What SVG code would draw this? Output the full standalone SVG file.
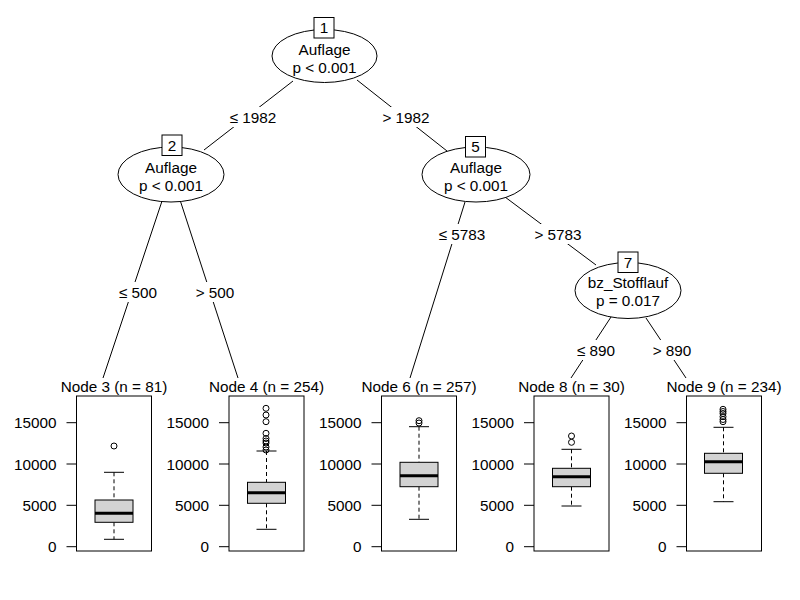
<svg xmlns="http://www.w3.org/2000/svg" width="800" height="600" viewBox="0 0 800 600">
<style>
text{font-family:"Liberation Sans",Arial,sans-serif;font-size:15.3px;fill:#000}
.m{text-anchor:middle}
.r{text-anchor:end}
.ell{fill:#fff;stroke:#000;stroke-width:1}
.idb{fill:#fff;stroke:#000;stroke-width:1}
.edge{stroke:#000;stroke-width:1;fill:none}
.lbg{fill:#fff;stroke:none}
.panel{fill:none;stroke:#000;stroke-width:1}
.box{fill:#d3d3d3;stroke:#000;stroke-width:1}
.med{stroke:#000;stroke-width:3}
.wh{stroke:#000;stroke-width:1;stroke-dasharray:4,3}
.ln{stroke:#000;stroke-width:1}
.out{fill:none;stroke:#000;stroke-width:1}
</style>
<rect width="800" height="600" fill="#fff"/>
<g id="connectors">
<line class="edge" x1="293" y1="81" x2="204" y2="150"/>
<line class="edge" x1="357" y1="80" x2="447" y2="151"/>
<line class="edge" x1="161.7" y1="202" x2="103" y2="378"/>
<line class="edge" x1="180.7" y1="202" x2="238" y2="378"/>
<line class="edge" x1="465" y1="202" x2="410" y2="378"/>
<line class="edge" x1="505" y1="197" x2="596" y2="265"/>
<line class="edge" x1="611" y1="317" x2="571" y2="378"/>
<line class="edge" x1="646" y1="318" x2="686" y2="378"/>
<rect class="lbg" x="227" y="107" width="52" height="20"/>
<rect class="lbg" x="380" y="107" width="52" height="20"/>
<rect class="lbg" x="116" y="282" width="44" height="20"/>
<rect class="lbg" x="193" y="282" width="44" height="20"/>
<rect class="lbg" x="436" y="224" width="52" height="20"/>
<rect class="lbg" x="532" y="224" width="52" height="20"/>
<rect class="lbg" x="574" y="340" width="44" height="20"/>
<rect class="lbg" x="650" y="340" width="44" height="20"/>
<text class="m" x="253" y="122.5">≤ 1982</text>
<text class="m" x="406" y="122.5">&gt; 1982</text>
<text class="m" x="138" y="297.5">≤ 500</text>
<text class="m" x="215" y="297.5">&gt; 500</text>
<text class="m" x="462" y="239.5">≤ 5783</text>
<text class="m" x="558" y="239.5">&gt; 5783</text>
<text class="m" x="596" y="355.5">≤ 890</text>
<text class="m" x="672" y="355.5">&gt; 890</text>
</g>
<g id="node1">
<ellipse class="ell" cx="324.5" cy="56" rx="52.5" ry="26.5"/>
<rect class="idb" x="314" y="17.5" width="20" height="20.5"/>
<text class="m" x="324" y="33">1</text>
<text class="m" x="324.5" y="54.5">Auflage</text>
<text class="m" x="324.5" y="72.5">p &lt; 0.001</text>
</g>
<g id="node2">
<ellipse class="ell" cx="171" cy="174.5" rx="53" ry="27.5"/>
<rect class="idb" x="162" y="135" width="20" height="20.5"/>
<text class="m" x="172" y="150.5">2</text>
<text class="m" x="171" y="172.5">Auflage</text>
<text class="m" x="171" y="190.5">p &lt; 0.001</text>
</g>
<g id="node5">
<ellipse class="ell" cx="476" cy="174.5" rx="54" ry="27.5"/>
<rect class="idb" x="465.5" y="136.5" width="20" height="20.5"/>
<text class="m" x="475.5" y="152">5</text>
<text class="m" x="476" y="172.5">Auflage</text>
<text class="m" x="476" y="190.5">p &lt; 0.001</text>
</g>
<g id="node7">
<ellipse class="ell" cx="628" cy="290.5" rx="53" ry="28"/>
<rect class="idb" x="618" y="252" width="20" height="20.5"/>
<text class="m" x="628" y="267.5">7</text>
<text class="m" x="628" y="288">bz_Stofflauf</text>
<text class="m" x="628" y="306">p = 0.017</text>
</g>
<g id="node3">
<text class="m" x="114" y="392">Node 3 (n = 81)</text>
<rect class="panel" x="76.5" y="396" width="75" height="155"/>
<g class="ln"><line x1="66.5" y1="422.7" x2="76.5" y2="422.7"/><line x1="66.5" y1="464" x2="76.5" y2="464"/><line x1="66.5" y1="505.3" x2="76.5" y2="505.3"/><line x1="66.5" y1="546.7" x2="76.5" y2="546.7"/></g>
<text class="r" x="56.5" y="428.2">15000</text><text class="r" x="56.5" y="469.5">10000</text><text class="r" x="56.5" y="510.8">5000</text><text class="r" x="56.5" y="552.2">0</text>
<line class="wh" x1="114" y1="472.3" x2="114" y2="500"/><line class="wh" x1="114" y1="522.3" x2="114" y2="539.3"/>
<line class="ln" x1="104" y1="472.3" x2="124" y2="472.3"/><line class="ln" x1="104" y1="539.3" x2="124" y2="539.3"/>
<rect class="box" x="95" y="500" width="38" height="22.3"/>
<line class="med" x1="95" y1="513.3" x2="133" y2="513.3"/>
<circle class="out" cx="114" cy="446" r="3"/>
</g>
<g id="node4">
<text class="m" x="266.5" y="392">Node 4 (n = 254)</text>
<rect class="panel" x="229" y="396" width="75" height="155"/>
<g class="ln"><line x1="219" y1="422.7" x2="229" y2="422.7"/><line x1="219" y1="464" x2="229" y2="464"/><line x1="219" y1="505.3" x2="229" y2="505.3"/><line x1="219" y1="546.7" x2="229" y2="546.7"/></g>
<text class="r" x="209" y="428.2">15000</text><text class="r" x="209" y="469.5">10000</text><text class="r" x="209" y="510.8">5000</text><text class="r" x="209" y="552.2">0</text>
<line class="wh" x1="266.5" y1="451" x2="266.5" y2="482.3"/><line class="wh" x1="266.5" y1="503.3" x2="266.5" y2="529.3"/>
<line class="ln" x1="256.5" y1="451" x2="276.5" y2="451"/><line class="ln" x1="256.5" y1="529.3" x2="276.5" y2="529.3"/>
<rect class="box" x="247.5" y="482.3" width="38" height="21"/>
<line class="med" x1="247.5" y1="492.7" x2="285.5" y2="492.7"/>
<g class="out"><circle cx="266" cy="408.3" r="3"/><circle cx="266" cy="415" r="3"/><circle cx="266" cy="421.7" r="3"/><circle cx="266" cy="433.3" r="3"/><circle cx="266" cy="438.5" r="3"/><circle cx="266" cy="441" r="3"/><circle cx="266" cy="443" r="3"/><circle cx="266" cy="447" r="3"/><circle cx="266" cy="450" r="3"/></g>
</g>
<g id="node6">
<text class="m" x="419" y="392">Node 6 (n = 257)</text>
<rect class="panel" x="381.5" y="396" width="75" height="155"/>
<g class="ln"><line x1="371.5" y1="422.7" x2="381.5" y2="422.7"/><line x1="371.5" y1="464" x2="381.5" y2="464"/><line x1="371.5" y1="505.3" x2="381.5" y2="505.3"/><line x1="371.5" y1="546.7" x2="381.5" y2="546.7"/></g>
<text class="r" x="361.5" y="428.2">15000</text><text class="r" x="361.5" y="469.5">10000</text><text class="r" x="361.5" y="510.8">5000</text><text class="r" x="361.5" y="552.2">0</text>
<line class="wh" x1="419" y1="426.7" x2="419" y2="462.3"/><line class="wh" x1="419" y1="486.7" x2="419" y2="519.3"/>
<line class="ln" x1="409" y1="426.7" x2="429" y2="426.7"/><line class="ln" x1="409" y1="519.3" x2="429" y2="519.3"/>
<rect class="box" x="400" y="462.3" width="38" height="24.4"/>
<line class="med" x1="400" y1="475.7" x2="438" y2="475.7"/>
<g class="out"><circle cx="419" cy="420.7" r="3"/><circle cx="419" cy="423" r="3"/></g>
</g>
<g id="node8">
<text class="m" x="571.5" y="392">Node 8 (n = 30)</text>
<rect class="panel" x="534" y="396" width="75" height="155"/>
<g class="ln"><line x1="524" y1="422.7" x2="534" y2="422.7"/><line x1="524" y1="464" x2="534" y2="464"/><line x1="524" y1="505.3" x2="534" y2="505.3"/><line x1="524" y1="546.7" x2="534" y2="546.7"/></g>
<text class="r" x="514" y="428.2">15000</text><text class="r" x="514" y="469.5">10000</text><text class="r" x="514" y="510.8">5000</text><text class="r" x="514" y="552.2">0</text>
<line class="wh" x1="571.5" y1="449.3" x2="571.5" y2="468.3"/><line class="wh" x1="571.5" y1="486.7" x2="571.5" y2="506"/>
<line class="ln" x1="561.5" y1="449.3" x2="581.5" y2="449.3"/><line class="ln" x1="561.5" y1="506" x2="581.5" y2="506"/>
<rect class="box" x="552.5" y="468.3" width="38" height="18.4"/>
<line class="med" x1="552.5" y1="476.7" x2="590.5" y2="476.7"/>
<g class="out"><circle cx="571.5" cy="436" r="3"/><circle cx="571.5" cy="442.3" r="3"/></g>
</g>
<g id="node9">
<text class="m" x="724" y="392">Node 9 (n = 234)</text>
<rect class="panel" x="686.5" y="396" width="75" height="155"/>
<g class="ln"><line x1="676.5" y1="422.7" x2="686.5" y2="422.7"/><line x1="676.5" y1="464" x2="686.5" y2="464"/><line x1="676.5" y1="505.3" x2="686.5" y2="505.3"/><line x1="676.5" y1="546.7" x2="686.5" y2="546.7"/></g>
<text class="r" x="666.5" y="428.2">15000</text><text class="r" x="666.5" y="469.5">10000</text><text class="r" x="666.5" y="510.8">5000</text><text class="r" x="666.5" y="552.2">0</text>
<line class="wh" x1="723.5" y1="427.3" x2="723.5" y2="453.3"/><line class="wh" x1="723.5" y1="473.3" x2="723.5" y2="501.7"/>
<line class="ln" x1="713.5" y1="427.3" x2="733.5" y2="427.3"/><line class="ln" x1="713.5" y1="501.7" x2="733.5" y2="501.7"/>
<rect class="box" x="704.5" y="453.3" width="38" height="20"/>
<line class="med" x1="704.5" y1="461.7" x2="742.5" y2="461.7"/>
<g class="out"><circle cx="723" cy="409.3" r="3"/><circle cx="723" cy="411.5" r="3"/><circle cx="723" cy="413.5" r="3"/><circle cx="723" cy="416.7" r="3"/><circle cx="723" cy="419.5" r="3"/><circle cx="723" cy="421.7" r="3"/></g>
</g>
</svg>
